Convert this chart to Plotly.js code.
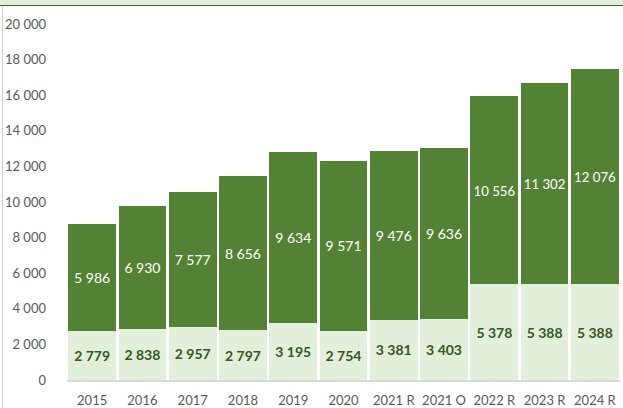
<!DOCTYPE html>
<html>
<head>
<meta charset="utf-8">
<script src="https://cdn.plot.ly/plotly-3.0.1.min.js"></script>
<style>
  html, body { margin: 0; padding: 0; background: #ffffff; }
  #wrap { position: relative; width: 623px; height: 408px; overflow: hidden; }
  #band { position: absolute; left: 0; top: 0; width: 623px; height: 5px; background: #E2EFDA; border-bottom: 1.5px solid #3F5F2A; z-index: 2; }
  #lline { position: absolute; left: 2px; top: 7px; width: 1px; height: 401px; background: #D0D0D0; z-index: 2; }
  #chart { position: absolute; left: 0; top: 0; width: 623px; height: 408px; }
</style>
</head>
<body>
<div id="wrap">
  <div id="chart"></div>
  <div id="band"></div>
  <div id="lline"></div>
</div>
<script>
const categories = ["2015", "2016", "2017", "2018", "2019", "2020", "2021 R", "2021 O", "2022 R", "2023 R", "2024 R"];
const lowerValues = [2779, 2838, 2957, 2797, 3195, 2754, 3381, 3403, 5378, 5388, 5388];
const upperValues = [5986, 6930, 7577, 8656, 9634, 9571, 9476, 9636, 10556, 11302, 12076];
const yTickValues = [0, 2000, 4000, 6000, 8000, 10000, 12000, 14000, 16000, 18000, 20000];

function fmt(v) {
  return String(v).replace(/\B(?=(\d{3})+(?!\d))/g, " ");
}

const traces = [
  {
    type: "bar",
    x: categories,
    y: lowerValues,
    text: lowerValues.map(fmt),
    textposition: "inside",
    insidetextanchor: "middle",
    textangle: 0,
    textfont: { family: "Lato, 'Open Sans', sans-serif", size: 14, color: "#375623", weight: "bold" },
    marker: { color: "#E2EFDA", line: { width: 0 } },
    hoverinfo: "none",
    cliponaxis: false
  },
  {
    type: "bar",
    x: categories,
    y: upperValues,
    text: upperValues.map(fmt),
    textposition: "inside",
    insidetextanchor: "middle",
    textangle: 0,
    textfont: { family: "Lato, 'Open Sans', sans-serif", size: 14, color: "#FFFFFF" },
    marker: { color: "#548235", line: { width: 0 } },
    hoverinfo: "none",
    cliponaxis: false
  }
];

const layout = {
  width: 623,
  height: 408,
  barmode: "stack",
  bargap: 0.05,
  showlegend: false,
  paper_bgcolor: "#FFFFFF",
  plot_bgcolor: "#FFFFFF",
  separators: ", ",
  uniformtext: { mode: false },
  margin: { l: 67, r: 3, t: 24, b: 28, pad: 0 },
  font: { family: "Lato, 'Open Sans', sans-serif", size: 13, color: "#595959" },
  xaxis: {
    type: "category",
    showgrid: false,
    zeroline: false,
    showline: true,
    linecolor: "#D9D9D9",
    linewidth: 1.5,
    ticks: "",
    ticklabelstandoff: 8,
    tickfont: { size: 13, color: "#595959" },
    fixedrange: true
  },
  yaxis: {
    range: [0, 20000],
    tickvals: yTickValues,
    ticktext: yTickValues.map(fmt),
    showgrid: false,
    zeroline: false,
    showline: false,
    ticks: "",
    ticklabelstandoff: 20,
    tickfont: { size: 13, color: "#595959" },
    fixedrange: true
  }
};

Plotly.newPlot("chart", traces, layout, { displayModeBar: false, staticPlot: true });
</script>
</body>
</html>
